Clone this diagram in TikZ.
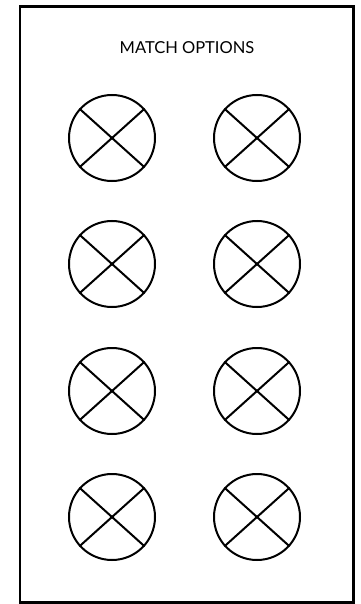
\documentclass[tikz,border=0pt]{standalone}
\usepackage{fontspec}
\setmainfont{Lato}
\begin{document}
\begin{tikzpicture}[x=1pt,y=-1pt,
  opt/.style={draw=black, line width=2pt, circle, minimum size=86pt, inner sep=0pt},
  crossline/.style={line width=2pt, black},
  frame/.style={draw=black, line width=2.2pt}]
\useasboundingbox (0,0) rectangle (360,604);
\draw[frame] (20,6.5) rectangle (353.5,602.5);
\node (title) at (187,48) {\fontsize{16.5}{18}\selectfont MATCH OPTIONS};
\foreach \r/\y in {1/138,2/264,3/391,4/517}{
  \foreach \c/\x in {1/112,2/257}{
    \node[opt] (o\r\c) at (\x,\y) {};
    \draw[crossline] (o\r\c.138) -- (o\r\c.318);
    \draw[crossline] (o\r\c.42) -- (o\r\c.222);
  }
}
\end{tikzpicture}
\end{document}
